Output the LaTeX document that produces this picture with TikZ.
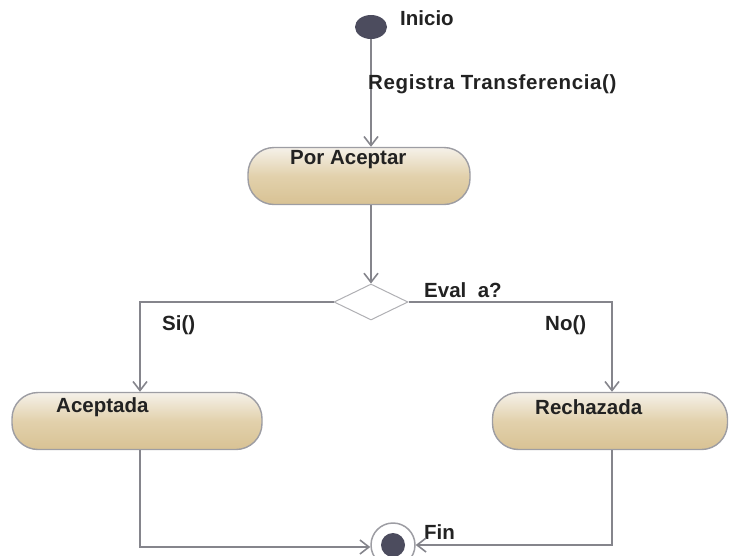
\documentclass[tikz,border=0pt]{standalone}
\usepackage{fontspec}
\setmainfont{Liberation Sans}
\usetikzlibrary{arrows.meta,shapes.geometric}
\definecolor{linegray}{HTML}{85858C}
\definecolor{dotgray}{HTML}{4C4C5E}
\definecolor{tanlight}{HTML}{F5F1E9}
\definecolor{tanmid}{HTML}{E2D1AC}
\definecolor{tandark}{HTML}{D8C294}
\definecolor{txt}{HTML}{222222}
\tikzset{
  lbl/.style={font=\bfseries\fontsize{20.5}{23}\selectfont, text=txt, inner sep=0pt},
  statebox/.style={draw=linegray!80, line width=1.4pt, rounded corners=26pt,
    top color=tanlight, bottom color=tandark, middle color=tanmid,
    minimum height=57pt, inner sep=0pt},
  flow/.style={draw=linegray, line width=1.8pt},
  arr/.style={flow, -{Straight Barb[length=9pt,width=14pt,line width=1.6pt]}},
}
\begin{document}
\begin{tikzpicture}[x=1pt,y=-1pt]
\useasboundingbox (0,0) rectangle (731,555);

% start state
\node[ellipse, fill=dotgray, minimum width=32pt, minimum height=24pt, inner sep=0pt] (ini) at (371,27) {};
\node[lbl, anchor=west] (tini) at (400,18) {Inicio};

% activity states
\node[statebox, minimum width=222pt] (por) at (359,176) {};
\node[lbl, anchor=west] (tpor) at (290,160) {Por Aceptar};

\node[statebox, minimum width=250pt] (acep) at (137,421) {};
\node[lbl, anchor=west] (tacep) at (56,407) {Aceptada};

\node[statebox, minimum width=235pt] (rech) at (610,421) {};
\node[lbl, anchor=west] (trech) at (535,407) {Rechazada};

% decision
\node[diamond, draw=linegray!65, line width=1pt, fill=white, minimum width=74pt, minimum height=36pt, inner sep=0pt] (dec) at (371,302) {};
\node[lbl, anchor=west] (tdec) at (424,290) {Eval\ \ a?};

% final state
\node[circle, draw=linegray!80, line width=1.5pt, fill=white, minimum size=44pt, inner sep=0pt] (fin) at (393,545) {};
\node[circle, fill=dotgray, minimum size=24pt, inner sep=0pt] at (fin) {};
\node[lbl, anchor=west] (tfin) at (424,532) {Fin};

% corner points of the branches
\coordinate (dl) at (140,302);
\coordinate (dr) at (612,302);
\coordinate (bl) at (140,547);
\coordinate (br) at (612,545);

% transitions
\draw[arr] (ini.south) -- (ini.south |- por.north);
\node[lbl, anchor=west] (treg) at (368,84) {\addfontfeatures{LetterSpace=3}Registra Transferencia()};

\draw[arr] (por.south -| ini) -- (dec.north);

\draw[arr] (dec.west) -- (dl) -- (dl |- acep.north);
\node[lbl, anchor=west] (tsi) at (162,325) {Si()};

\draw[arr] (dec.east) -- (dr) -- (dr |- rech.north);
\node[lbl, anchor=west] (tno) at (545,325) {No()};

\draw[arr] (bl |- acep.south) -- (bl) -- (fin.west |- bl);
\draw[arr] (br |- rech.south) -- (br) -- (fin.east |- br);
\end{tikzpicture}
\end{document}
